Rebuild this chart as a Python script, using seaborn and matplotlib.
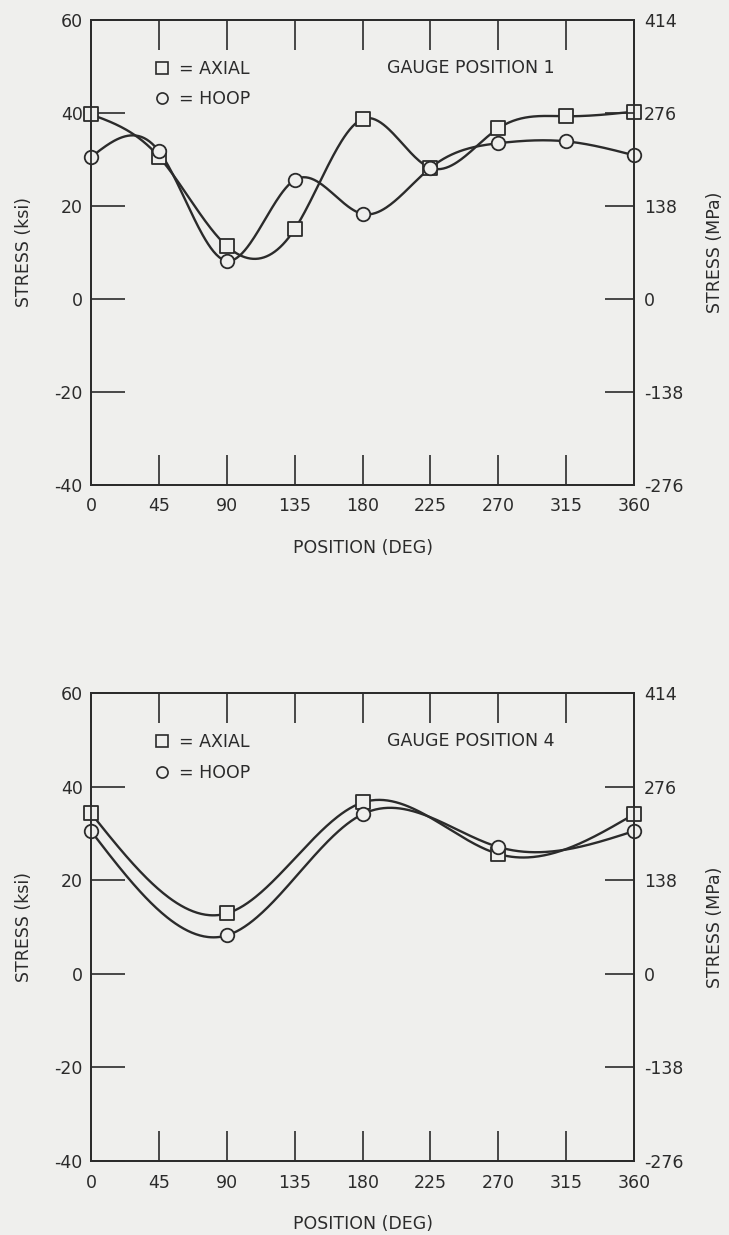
import numpy as np
import pandas as pd
import matplotlib
matplotlib.use("Agg")
import matplotlib.pyplot as plt
from matplotlib.lines import Line2D
import seaborn as sns

# ---------------- data ----------------
positions_g1 = [0, 45, 90, 135, 180, 225, 270, 315, 360]
axial_g1 = [39.7, 30.6, 11.4, 15.0, 38.7, 28.2, 36.7, 39.3, 40.3]
hoop_g1 = [30.5, 31.8, 8.2, 25.6, 18.3, 28.2, 33.5, 33.9, 30.9]

positions_g4 = [0, 90, 180, 270, 360]
axial_g4 = [34.3, 12.9, 36.6, 25.6, 34.1]
hoop_g4 = [30.5, 8.2, 34.1, 27.1, 30.5]

x_ticks = [0, 45, 90, 135, 180, 225, 270, 315, 360]
ksi_ticks = [-40, -20, 0, 20, 40, 60]
mpa_labels = ["-276", "-138", "0", "138", "276", "414"]
panel_titles = ["GAUGE POSITION 1", "GAUGE POSITION 4"]
legend_labels = ["= AXIAL", "= HOOP"]

BG = "#efefed"
INK = "#2b2b2b"

sns.set_style("ticks")
plt.rcParams["font.family"] = ["DejaVu Sans"]
plt.rcParams["text.color"] = INK
plt.rcParams["axes.labelcolor"] = INK
plt.rcParams["xtick.color"] = INK
plt.rcParams["ytick.color"] = INK


def natural_spline(x, y, n=400):
    """Smooth curve through the measured points (drawing only)."""
    x = np.asarray(x, float)
    y = np.asarray(y, float)
    m = len(x)
    h = np.diff(x)
    A = np.zeros((m, m))
    r = np.zeros(m)
    A[0, 0] = A[-1, -1] = 1.0
    for i in range(1, m - 1):
        A[i, i - 1] = h[i - 1]
        A[i, i] = 2 * (h[i - 1] + h[i])
        A[i, i + 1] = h[i]
        r[i] = 6 * ((y[i + 1] - y[i]) / h[i] - (y[i] - y[i - 1]) / h[i - 1])
    M = np.linalg.solve(A, r)
    xs = np.linspace(x[0], x[-1], n)
    k = np.clip(np.searchsorted(x, xs) - 1, 0, m - 2)
    hk = h[k]
    a = (x[k + 1] - xs) / hk
    b = (xs - x[k]) / hk
    ys = (a * y[k] + b * y[k + 1]
          + ((a ** 3 - a) * M[k] + (b ** 3 - b) * M[k + 1]) * hk ** 2 / 6)
    return xs, ys


fig = plt.figure(figsize=(7.29, 12.35), dpi=100, facecolor=BG)
ax_top = fig.add_axes([0.1248, 0.6073, 0.745, 0.3765])
ax_bot = fig.add_axes([0.1248, 0.0599, 0.745, 0.379])

FS = 12.5

panels = [
    (ax_top, positions_g1, axial_g1, hoop_g1, panel_titles[0]),
    (ax_bot, positions_g4, axial_g4, hoop_g4, panel_titles[1]),
]

for ax, pos, axial, hoop, title in panels:
    ax.set_facecolor(BG)
    for series, mk in ((axial, "s"), (hoop, "o")):
        xs, ys = natural_spline(pos, series)
        curve = pd.DataFrame({"x": xs, "y": ys})
        sns.lineplot(data=curve, x="x", y="y", ax=ax, color=INK, lw=1.7,
                     sort=False, estimator=None, zorder=2)
        pts = pd.DataFrame({"x": pos, "y": series})
        sns.scatterplot(data=pts, x="x", y="y", ax=ax, marker=mk, s=95,
                        color=BG, edgecolor=INK, linewidth=1.3, zorder=3,
                        clip_on=False)

    ax.set_xlim(0, 360)
    ax.set_ylim(-40, 60)
    ax.set_xticks(x_ticks)
    ax.set_xticklabels([str(v) for v in x_ticks], fontsize=FS)
    ax.set_yticks(ksi_ticks)
    ax.set_yticklabels([str(v) for v in ksi_ticks], fontsize=FS)
    ax.tick_params(axis="x", direction="in", length=21.5, width=1.2,
                   top=True, bottom=True, pad=9)
    ax.tick_params(axis="y", direction="in", length=24.5, width=1.2,
                   left=True, right=False, pad=6)
    for sp in ax.spines.values():
        sp.set_visible(True)
        sp.set_linewidth(1.3)
        sp.set_color(INK)
    ax.set_xlabel("POSITION (DEG)", fontsize=FS, labelpad=17)
    ax.set_ylabel("STRESS (ksi)", fontsize=FS, labelpad=15)

    # right-hand MPa scale
    twin = ax.twinx()
    twin.set_ylim(ax.get_ylim())
    twin.set_yticks(ksi_ticks)
    twin.set_yticklabels(mpa_labels, fontsize=FS)
    twin.tick_params(axis="y", direction="in", length=21, width=1.2, pad=7)
    twin.set_ylabel("STRESS (MPa)", fontsize=FS, labelpad=16)
    for sp in twin.spines.values():
        sp.set_linewidth(1.3)
        sp.set_color(INK)

    handles = [
        Line2D([], [], ls="none", marker="s", ms=8, mfc=BG, mec=INK, mew=1.2),
        Line2D([], [], ls="none", marker="o", ms=8, mfc=BG, mec=INK, mew=1.2),
    ]
    ax.legend(handles, legend_labels, loc="upper left",
              bbox_to_anchor=(0.102, 0.929), frameon=False,
              fontsize=FS, handlelength=1.0, handletextpad=0.5,
              labelspacing=0.72, borderaxespad=0)
    ax.text(0.545, 0.897, title, transform=ax.transAxes, fontsize=FS,
            ha="left", va="center", color=INK)

fig.savefig("out.png", dpi=100, facecolor=BG)
